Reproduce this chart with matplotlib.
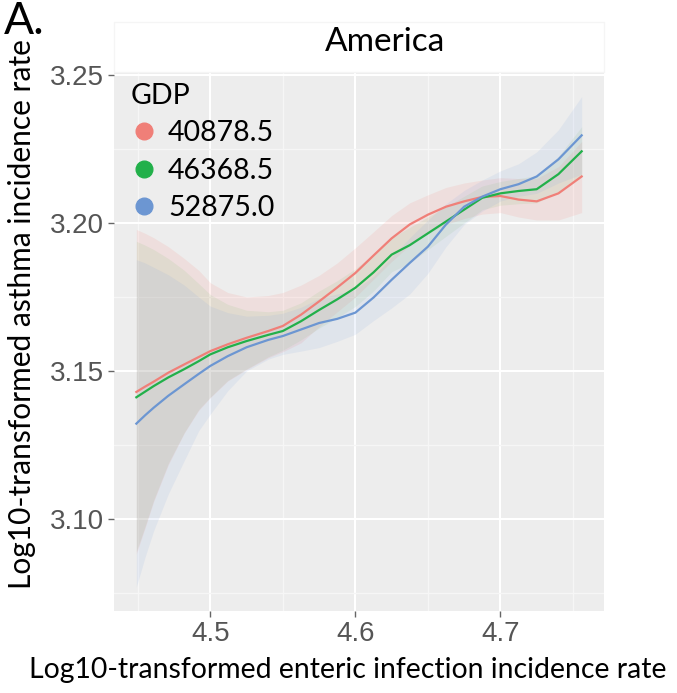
import matplotlib.pyplot as plt
from matplotlib.lines import Line2D
from matplotlib.patches import Rectangle

x = [4.449, 4.455, 4.461, 4.471, 4.482, 4.492, 4.5, 4.512, 4.525, 4.54, 4.55, 4.5625, 4.575,
     4.5875, 4.6, 4.6125, 4.625, 4.6375, 4.65, 4.6625, 4.675, 4.6875, 4.7, 4.7125, 4.725, 4.74, 4.756]

red_fit = [3.1429, 3.1447, 3.1464, 3.1494, 3.1522, 3.1547, 3.1567, 3.1590, 3.1612, 3.1635, 3.1652,
           3.1690, 3.1735, 3.1782, 3.1831, 3.1890, 3.1948, 3.1995, 3.2028, 3.2055, 3.2073, 3.2088,
           3.2091, 3.2079, 3.2073, 3.2100, 3.2157]
red_hi = [3.1978, 3.1965, 3.1950, 3.1920, 3.1880, 3.1840, 3.1798, 3.1765, 3.1750, 3.1755, 3.1765,
          3.1790, 3.1823, 3.1865, 3.1916, 3.1970, 3.2025, 3.2068, 3.2095, 3.2120, 3.2135, 3.2145,
          3.2153, 3.2150, 3.2150, 3.2190, 3.2275]
red_lo = [3.0882, 3.0970, 3.1060, 3.1183, 3.1290, 3.1367, 3.1410, 3.1466, 3.1505, 3.1545, 3.1565,
          3.1595, 3.1650, 3.1700, 3.1750, 3.1810, 3.1870, 3.1925, 3.1965, 3.1995, 3.2015, 3.2030,
          3.2035, 3.2020, 3.2010, 3.2010, 3.2035]

green_fit = [3.1411, 3.1430, 3.1449, 3.1478, 3.1506, 3.1533, 3.1556, 3.1580, 3.1601, 3.1622, 3.1635,
             3.1668, 3.1706, 3.1742, 3.1781, 3.1833, 3.1893, 3.1925, 3.1965, 3.2005, 3.2045, 3.2085,
             3.2100, 3.2108, 3.2114, 3.2165, 3.2242]
green_hi = [3.1938, 3.1925, 3.1910, 3.1880, 3.1840, 3.1795, 3.1758, 3.1725, 3.1705, 3.1700, 3.1705,
            3.1730, 3.1770, 3.1805, 3.1845, 3.1895, 3.1950, 3.1985, 3.2020, 3.2055, 3.2090, 3.2125,
            3.2140, 3.2150, 3.2160, 3.2225, 3.2325]
green_lo = [3.0890, 3.0975, 3.1065, 3.1188, 3.1292, 3.1370, 3.1412, 3.1468, 3.1507, 3.1548, 3.1570,
            3.1605, 3.1645, 3.1680, 3.1718, 3.1770, 3.1835, 3.1865, 3.1910, 3.1955, 3.2000, 3.2045,
            3.2060, 3.2065, 3.2068, 3.2105, 3.2160]

blue_fit = [3.1322, 3.1350, 3.1376, 3.1416, 3.1455, 3.1490, 3.1517, 3.1550, 3.1580, 3.1605, 3.1618,
            3.1640, 3.1662, 3.1676, 3.1697, 3.1748, 3.1808, 3.1865, 3.1920, 3.1995, 3.2055, 3.2089,
            3.2114, 3.2131, 3.2157, 3.2215, 3.2296]
blue_hi = [3.1876, 3.1865, 3.1850, 3.1825, 3.1790, 3.1750, 3.1719, 3.1697, 3.1685, 3.1688, 3.1695,
           3.1715, 3.1745, 3.1760, 3.1775, 3.1820, 3.1885, 3.1950, 3.2010, 3.2065, 3.2110, 3.2145,
           3.2176, 3.2200, 3.2240, 3.2315, 3.2427]
blue_lo = [3.0770, 3.0871, 3.0961, 3.1084, 3.1197, 3.1298, 3.1354, 3.1433, 3.1500, 3.1540, 3.1556,
           3.1567, 3.1579, 3.1600, 3.1624, 3.1670, 3.1713, 3.1760, 3.1830, 3.1920, 3.1995, 3.2040,
           3.2074, 3.2090, 3.2100, 3.2135, 3.2165]

gdp_labels = ['40878.5', '46368.5', '52875.0']
colors = ['#F07F78', '#22B04A', '#6C96D2']
fills = ['#F8766D', '#7DBE6A', '#7FA3E0']

W, H = 677, 693
fig = plt.figure(figsize=(W / 100, H / 100), dpi=100)
ax = fig.add_axes([114 / W, (H - 611) / H, 490 / W, 539 / H])
ax.set_facecolor('#EDEDED')
for s in ax.spines.values():
    s.set_visible(False)

series = [(red_fit, red_lo, red_hi), (green_fit, green_lo, green_hi), (blue_fit, blue_lo, blue_hi)]
for (fit, lo, hi), c in zip(series, fills):
    ax.fill_between(x, lo, hi, color=c, alpha=0.12, linewidth=0, zorder=2)
for (fit, lo, hi), c in zip(series, colors):
    ax.plot(x, fit, color=c, lw=1.6, zorder=3)

ax.set_xlim(4.4336, 4.7714)
ax.set_ylim(3.0689, 3.251)
ax.set_xticks([4.5, 4.6, 4.7])
ax.set_yticks([3.10, 3.15, 3.20, 3.25])
ax.set_xticks([4.45, 4.55, 4.65, 4.75], minor=True)
ax.set_yticks([3.075, 3.125, 3.175, 3.225], minor=True)
ax.set_yticklabels(['3.10', '3.15', '3.20', '3.25'])
ax.grid(which='major', color='white', lw=1.5, zorder=1)
ax.grid(which='minor', color='#F6F6F6', lw=0.9, zorder=1)
ax.set_axisbelow(True)
ax.tick_params(which='major', direction='out', length=4, width=1, color='#666666',
               labelcolor='#555555', labelsize=20, pad=3)
ax.tick_params(which='minor', length=0)
for lab in ax.get_xticklabels() + ax.get_yticklabels():
    lab.set_family('Liberation Sans')

# facet strip
strip = Rectangle((114 / W, (H - 72) / H), 490 / W, 50 / H, transform=fig.transFigure,
                  facecolor='white', edgecolor='#F5F5F5', lw=1)
fig.patches.append(strip)
fig.text(385 / W, (H - 42) / H, 'America', ha='center', va='center', fontsize=24, family='Lato')

fig.text(4 / W, (H - 1) / H, 'A.', ha='left', va='top', fontsize=32, family='Lato')

fig.text(29 / W, (H - 670) / H, 'Log10-transformed enteric infection incidence rate',
         ha='left', va='center', fontsize=20.4, family='Lato')
fig.text(22 / W, (H - 314) / H, 'Log10-transformed asthma incidence rate',
         ha='center', va='center', rotation=90, fontsize=21.5, family='Lato')

handles = [Line2D([], [], marker='o', ls='none', color=c, markersize=12) for c in colors]
leg = ax.legend(handles, gdp_labels, title='GDP', loc='upper left', frameon=False,
                bbox_to_anchor=(0.029, 0.985),
                prop={'family': 'Lato', 'size': 20.5},
                title_fontproperties={'family': 'Lato', 'size': 20.5},
                handletextpad=0.4, labelspacing=0.4, borderaxespad=0, handlelength=0.9,
                borderpad=0.1)
leg._legend_box.align = 'left'

fig.savefig('out.png', dpi=100)
